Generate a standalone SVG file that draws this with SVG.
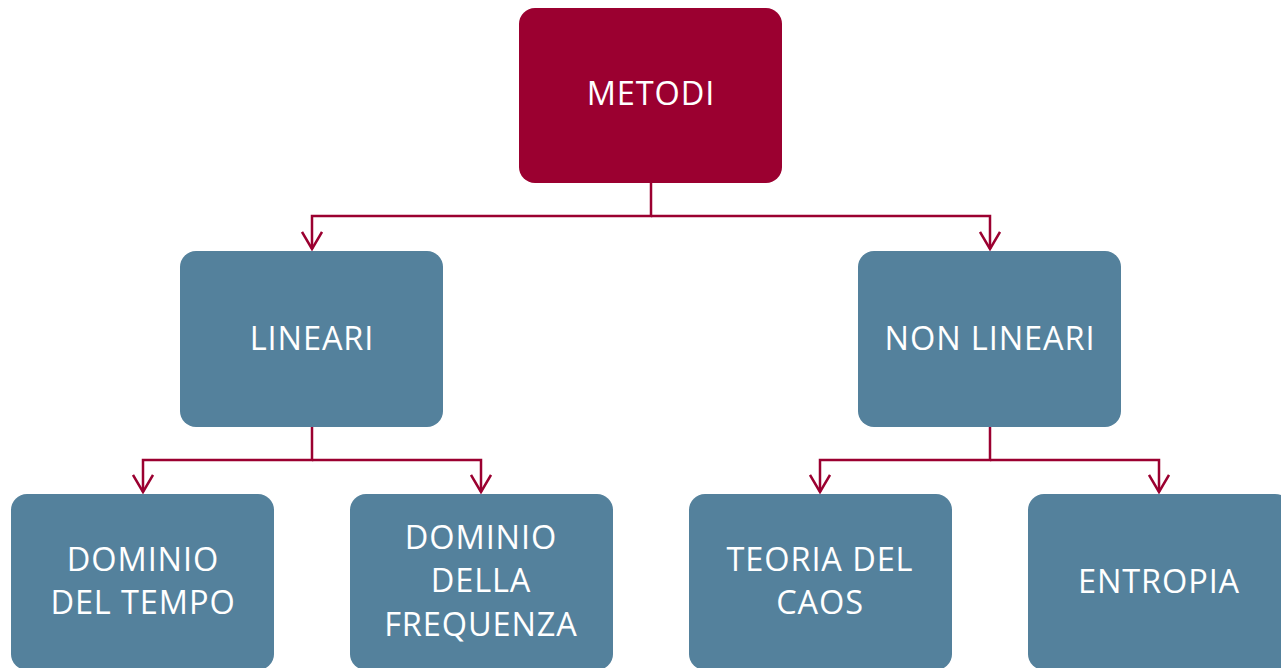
<svg xmlns="http://www.w3.org/2000/svg" width="1281" height="668" viewBox="0 0 1281 668">
<defs>
<style>
.top{fill:#9B0030}
.box{fill:#54819C}
.t{fill:#ffffff;font-family:"Open Sans","Noto Sans",sans-serif;font-size:32.5px;letter-spacing:0.9px;text-anchor:middle}
.c{fill:none;stroke:#9B0030;stroke-width:2.5}
</style>
<marker id="arr" viewBox="0 0 20 22" markerWidth="20" markerHeight="22" refX="18" refY="11" orient="auto" markerUnits="userSpaceOnUse">
<path d="M1,1 L18,11 L1,21" fill="none" stroke="#9B0030" stroke-width="2.5"/>
</marker>
</defs>
<rect width="1281" height="668" fill="#ffffff"/>
<g id="connectors">
<path class="c" d="M651,183 V216 H312 V249" marker-end="url(#arr)"/>
<path class="c" d="M651,216 H990 V249" marker-end="url(#arr)"/>
<path class="c" d="M312,427 V460 H143 V492" marker-end="url(#arr)"/>
<path class="c" d="M312,460 H481 V492" marker-end="url(#arr)"/>
<path class="c" d="M990,427 V460 H820 V492" marker-end="url(#arr)"/>
<path class="c" d="M990,460 H1159 V492" marker-end="url(#arr)"/>
</g>
<g id="metodi">
<rect class="top" x="519" y="8" width="263" height="175" rx="16"/>
<text class="t" x="651" y="105">METODI</text>
</g>
<g id="lineari">
<rect class="box" x="180" y="251" width="263" height="176" rx="16"/>
<text class="t" x="312" y="350">LINEARI</text>
</g>
<g id="non-lineari">
<rect class="box" x="858" y="251" width="263" height="176" rx="16"/>
<text class="t" x="990" y="350">NON LINEARI</text>
</g>
<g id="dominio-tempo">
<rect class="box" x="11" y="494" width="263" height="176" rx="16"/>
<text class="t" x="143" y="571">DOMINIO</text>
<text class="t" x="143" y="614">DEL TEMPO</text>
</g>
<g id="dominio-frequenza">
<rect class="box" x="350" y="494" width="263" height="176" rx="16"/>
<text class="t" x="481" y="549">DOMINIO</text>
<text class="t" x="481" y="592">DELLA</text>
<text class="t" x="481" y="636">FREQUENZA</text>
</g>
<g id="teoria-caos">
<rect class="box" x="689" y="494" width="263" height="176" rx="16"/>
<text class="t" x="820" y="571">TEORIA DEL</text>
<text class="t" x="820" y="614">CAOS</text>
</g>
<g id="entropia">
<rect class="box" x="1028" y="494" width="263" height="176" rx="16"/>
<text class="t" x="1159" y="593">ENTROPIA</text>
</g>
</svg>
